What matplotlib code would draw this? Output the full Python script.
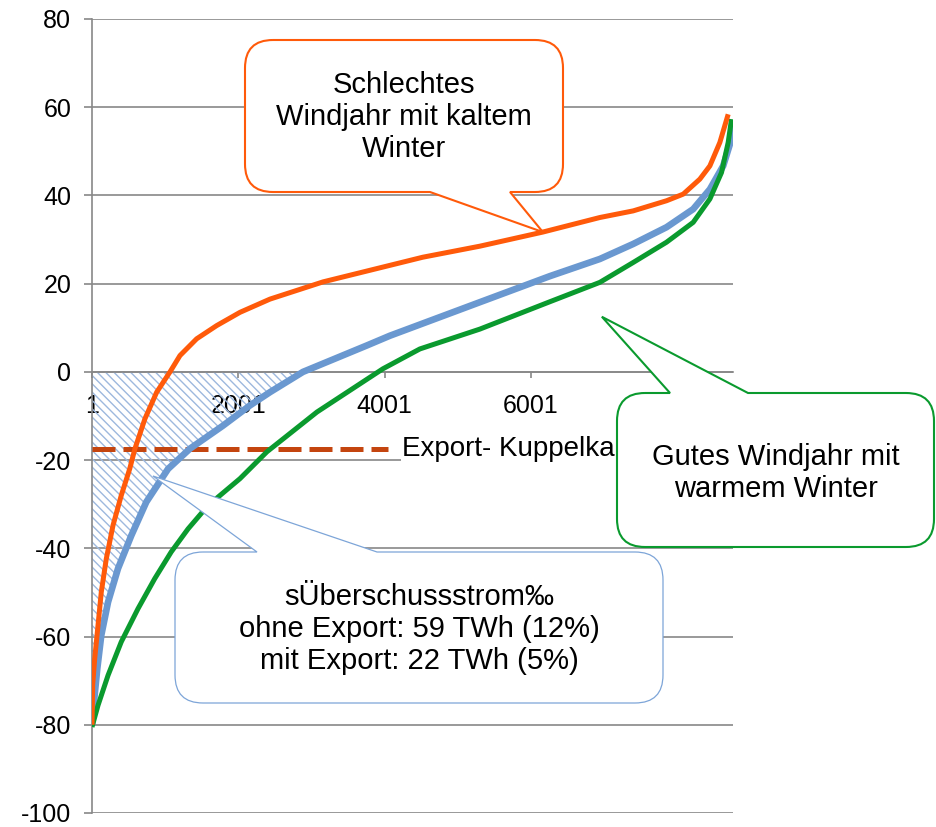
import matplotlib.pyplot as plt
import numpy as np
from matplotlib.path import Path
from matplotlib.patches import PathPatch
from matplotlib.transforms import Affine2D

W, H = 937, 827

# sorted hourly residual load (GW), three weather years
hours_bad = [1, 10, 38, 83, 128, 196, 288, 401, 516, 588, 725, 885, 1067, 1203, 1431, 1705,
             2023, 2433, 3157, 4522, 5301, 6162, 6941, 7396, 7852, 8080, 8307, 8444, 8580, 8694]
load_bad = [-80, -71, -65, -57.5, -49.9, -42.4, -34.8, -28, -22, -17.4, -10.6, -4.6, 0, 3.7, 7.5, 10.5,
            13.5, 16.5, 20.4, 26, 28.5, 31.7, 35, 36.5, 38.8, 40.3, 43.7, 46.7, 52, 58.4]

hours_mid = [1, 28, 73, 128, 220, 356, 538, 743, 1040, 1340, 1790, 2160, 2433, 2884,
             3758, 4072, 5301, 6257, 6941, 7396, 7852, 8216, 8444, 8626, 8740, 8760]
load_mid = [-80, -74.8, -67.3, -59.7, -52.2, -44.6, -37.1, -29.5, -22, -17.4, -12.2, -7.6, -4.6, 0,
            6, 8.2, 15.8, 21.7, 25.6, 29, 32.8, 36.9, 41.4, 46.7, 52.8, 57]

hours_good = [1, 83, 220, 401, 629, 857, 1084, 1313, 1586, 2023, 2392, 3075, 3976, 4481,
              5301, 6257, 6941, 7396, 7852, 8216, 8444, 8603, 8694, 8740]
load_good = [-80.5, -75.6, -68.8, -61.2, -53.7, -46.9, -40.8, -35.6, -30.3, -24.2, -18.1, -9.1, 0.7, 5.2,
             9.7, 15.9, 20.3, 24.8, 29.4, 33.9, 39.2, 45.2, 52, 57.3]

export_cap = -17.5
export_hours = [1, 4045]

x_ticks = [1, 2001, 4001, 6001, 8001]
y_ticks = list(range(-100, 81, 20))

plt.rcParams['font.family'] = ['Liberation Sans', 'DejaVu Sans']
plt.rcParams['axes.unicode_minus'] = False
plt.rcParams['hatch.linewidth'] = 1.0
plt.rcParams['hatch.color'] = '#9DB8DE'

grey = '#888888'
fig = plt.figure(figsize=(W / 100, H / 100), dpi=100)
ax = fig.add_axes([92 / W, 1 - 813 / H, 641 / W, 794 / H])

ax.set_xlim(1, 8760)
ax.set_ylim(-100, 80)
ax.set_yticks(y_ticks)
ax.set_xticks(x_ticks)
ax.set_xticklabels([str(t) for t in x_ticks])
ax.yaxis.grid(True, color=grey, lw=1.2, zorder=0)
ax.set_axisbelow(True)
for s in ['top', 'right']:
    ax.spines[s].set_visible(False)
ax.spines['bottom'].set_position(('data', 0))
for s in ['left', 'bottom']:
    ax.spines[s].set_color(grey)
    ax.spines[s].set_linewidth(1.2)
ax.tick_params(axis='y', length=6, width=1.2, color=grey, pad=9, labelsize=18)
ax.tick_params(axis='x', length=4, width=1.2, color=grey, pad=12, labelsize=18)

# surplus area below zero (medium year)
mid_x = np.array(hours_mid, dtype=float)
mid_y = np.array(load_mid, dtype=float)
ax.fill_between(mid_x, mid_y, 0, where=mid_y <= 0, interpolate=True,
                facecolor='none', edgecolor='#9DB8DE', hatch='\\\\\\\\', linewidth=0, zorder=1)

ax.plot(export_hours, [export_cap, export_cap], color='#C4450F', lw=3.6,
        linestyle=(0, (4.6, 1.6)), zorder=3)
ax.text(4236, export_cap, 'Export- Kuppelkapazität', fontsize=20, va='center', ha='left',
        bbox=dict(facecolor='white', edgecolor='none', pad=1), zorder=4)

line_kw = dict(solid_joinstyle='round', solid_capstyle='butt')
ax.plot(hours_mid, load_mid, color='#6A98D0', lw=4.8, zorder=5, **line_kw)
ax.plot(hours_good, load_good, color='#0A9A2E', lw=3.6, zorder=5, **line_kw)
ax.plot(hours_bad, load_bad, color='#FF5A0A', lw=3.6, zorder=6, **line_kw)

px = Affine2D().scale(1 / W, -1 / H).translate(0, 1) + fig.transFigure


def to_px(x, y):
    dx, dy = ax.transData.transform((x, y))
    return dx, H - dy


def bubble(x0, y0, x1, y1, edge, base, tip, color, lw, r=28):
    a, b = base
    v = [(x0 + r, y0)]
    c = [Path.MOVETO]
    if edge == 'top':
        v += [(a, y0), tip, (b, y0)]
        c += [Path.LINETO] * 3
    v += [(x1 - r, y0), (x1, y0), (x1, y0 + r), (x1, y1 - r), (x1, y1), (x1 - r, y1)]
    c += [Path.LINETO, Path.CURVE3, Path.CURVE3, Path.LINETO, Path.CURVE3, Path.CURVE3]
    if edge == 'bottom':
        v += [(b, y1), tip, (a, y1)]
        c += [Path.LINETO] * 3
    v += [(x0 + r, y1), (x0, y1), (x0, y1 - r), (x0, y0 + r), (x0, y0), (x0 + r, y0)]
    c += [Path.LINETO, Path.CURVE3, Path.CURVE3, Path.LINETO, Path.CURVE3, Path.CURVE3]
    patch = PathPatch(Path(v, c), facecolor='white', edgecolor=color, lw=lw,
                      transform=px, zorder=10)
    fig.add_artist(patch)


def bubble_text(cx, cy, s):
    fig.text(cx / W, 1 - cy / H, s, ha='center', va='center', fontsize=21,
             linespacing=1.18, zorder=11)


bubble(245, 40, 563, 192, 'bottom', (430, 510), to_px(6162, 31.7), '#FF5A0A', 1.5)
bubble_text(404, 117, 'Schlechtes\nWindjahr mit kaltem\nWinter')

bubble(617, 393, 934, 547, 'top', (670, 748), to_px(6968, 12.5), '#0A9A2E', 1.5)
bubble_text(776, 473, 'Gutes Windjahr mit\nwarmem Winter')

bubble(175, 552, 663, 703, 'top', (257, 377), to_px(834, -23.6), '#7DA5D8', 0.9)
bubble_text(419, 629, 'sÜberschussstrom‰\nohne Export: 59 TWh (12%)\nmit Export: 22 TWh (5%)')

fig.savefig('out.png', dpi=100, facecolor='white')
